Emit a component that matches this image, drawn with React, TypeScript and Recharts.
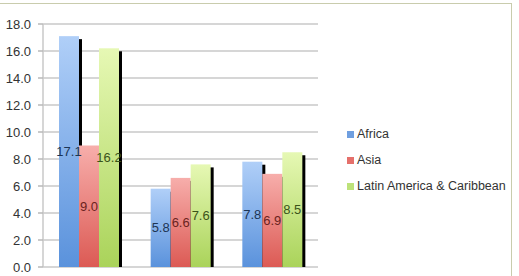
import { BarChart, Bar, XAxis, YAxis, CartesianGrid, LabelList } from 'recharts';

const regions = ['1', '2', '3'];
const africa = [17.1, 5.8, 7.8];
const asia = [9.0, 6.6, 6.9];
const latam = [16.2, 7.6, 8.5];
const yTicks = [0, 2, 4, 6, 8, 10, 12, 14, 16, 18];

const series = [
  { key: 'africa', name: 'Africa', top: '#b0cff8', bottom: '#5a92dc', label: '#1d3554', swatch: '#6f9fe0' },
  { key: 'asia', name: 'Asia', top: '#f7aeab', bottom: '#dc5a54', label: '#6a2320', swatch: '#e5706b' },
  { key: 'latam', name: 'Latin America & Caribbean', top: '#e6f8b4', bottom: '#aad35a', label: '#3b531a', swatch: '#bde27a' },
];

const data = regions.map((r, i) => ({ region: r, africa: africa[i], asia: asia[i], latam: latam[i] }));

const font = '"Liberation Sans", Arial, sans-serif';

function ShadowBar(props: any) {
  const { x, y, width, height, gradId } = props;
  if (!height) return null;
  return (
    <g>
      <rect x={x + 3} y={y + 3} width={width} height={Math.max(0, height - 3)} fill="#000" />
      <rect x={x} y={y} width={width} height={height} fill={`url(#${gradId})`} />
    </g>
  );
}

function BoundaryTick(props: any) {
  const { x, y, payload, index } = props;
  const half = payload.offset || 0;
  return (
    <g stroke="#b8b8b8" strokeWidth={1.5}>
      {index === 0 && <line x1={x - half} x2={x - half} y1={y - 5} y2={y + 1} />}
      <line x1={x + half} x2={x + half} y1={y - 5} y2={y + 1} />
    </g>
  );
}

export default function App() {
  return (
    <div style={{ position: 'fixed', left: 0, top: 0, width: 519, height: 276, background: '#fff', overflow: 'hidden', fontFamily: font }}>
      <div style={{ position: 'absolute', left: -2, top: 3, width: 514, height: 290, border: '1.5px solid #c9ccad', boxSizing: 'border-box' }} />
      <BarChart width={519} height={276} data={data} margin={{ top: 24, right: 201, bottom: 9, left: 0 }}
        barCategoryGap="17.5%" barGap={0}>
        <defs>
          {series.map((s) => (
            <linearGradient key={s.key} id={`g-${s.key}`} x1="0" y1="0" x2="0" y2="1">
              <stop offset="0%" stopColor={s.top} />
              <stop offset="100%" stopColor={s.bottom} />
            </linearGradient>
          ))}
        </defs>
        <CartesianGrid vertical={false} stroke="#c8c8c8" strokeWidth={1.5} />
        <XAxis dataKey="region" height={0} axisLine={{ stroke: '#b8b8b8', strokeWidth: 1.5 }} tickLine={false}
          tick={<BoundaryTick />} interval={0} />
        <YAxis width={43} domain={[0, 18]} ticks={yTicks} tickFormatter={(v) => Number(v).toFixed(1)}
          axisLine={{ stroke: '#c8c8c8', strokeWidth: 1.5 }} tickLine={{ stroke: '#b8b8b8', strokeWidth: 1.5 }} tickSize={5}
          tickMargin={7} tick={{ fontSize: 13, fill: '#333', fontFamily: font }} interval={0} />
        {series.map((s) => (
          <Bar key={s.key} dataKey={s.key} name={s.name} barSize={20} isAnimationActive={false}
            shape={(p: any) => <ShadowBar {...p} gradId={`g-${s.key}`} />}>
            <LabelList dataKey={s.key} position="center" formatter={(v: any) => Number(v).toFixed(1)}
              style={{ fontSize: 13, fill: s.label, fontFamily: font }} />
          </Bar>
        ))}
      </BarChart>
      <div style={{ position: 'absolute', left: 347, top: 121, fontSize: 12.5, color: '#333' }}>
        {series.map((s) => (
          <div key={s.key} style={{ display: 'flex', alignItems: 'center', height: 26 }}>
            <span style={{ width: 7, height: 7, background: s.swatch, marginRight: 3, display: 'inline-block' }} />
            <span>{s.name}</span>
          </div>
        ))}
      </div>
    </div>
  );
}
